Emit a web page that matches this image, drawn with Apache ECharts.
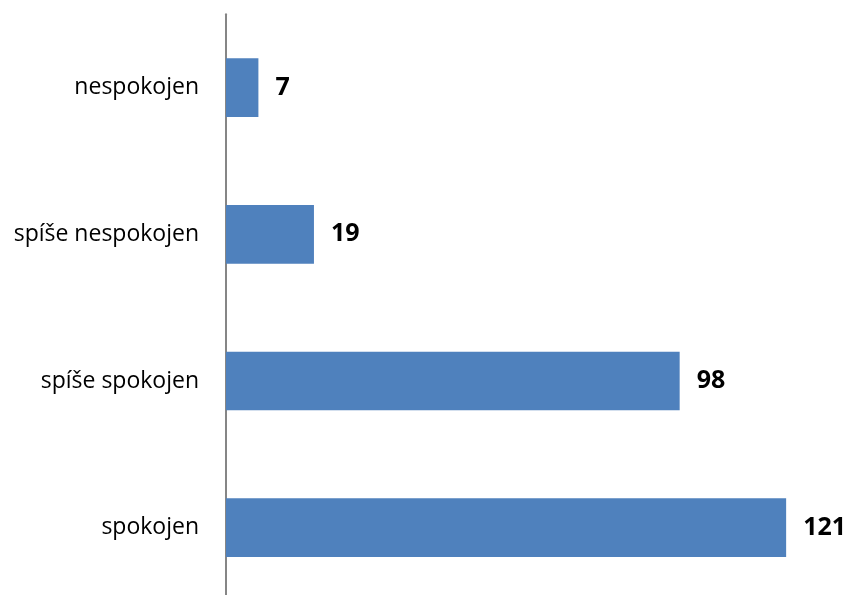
<!DOCTYPE html>
<html><head><meta charset="utf-8">
<script src="https://cdn.jsdelivr.net/npm/echarts@6/dist/echarts.min.js"></script>
<style>html,body{margin:0;padding:0;background:#fff;overflow:hidden}#c{width:850px;height:615px}</style>
</head><body><div id="c"></div>
<script>
const categories = ["spokojen", "spíše spokojen", "spíše nespokojen", "nespokojen"];
const values = [121, 98, 19, 7];

const chart = echarts.init(document.getElementById('c'));
chart.setOption({
  animation: false,
  grid: { left: 226, top: 14.3, width: 601.8, height: 586.7, containLabel: false },
  xAxis: { type: 'value', min: 0, max: 130, show: false },
  yAxis: {
    type: 'category', data: categories,
    axisLine: { show: true, lineStyle: { color: '#868686', width: 2 } },
    axisTick: { show: false },
    axisLabel: { margin: 27, color: '#000', fontFamily: 'Open Sans', fontSize: 23 }
  },
  series: [{
    type: 'bar', data: values, barCategoryGap: '60%',
    itemStyle: { color: '#4f81bd' },
    label: { show: true, position: 'right', distance: 17, color: '#000', fontWeight: 'bold', fontFamily: 'Open Sans', fontSize: 25 }
  }]
});
</script></body></html>
